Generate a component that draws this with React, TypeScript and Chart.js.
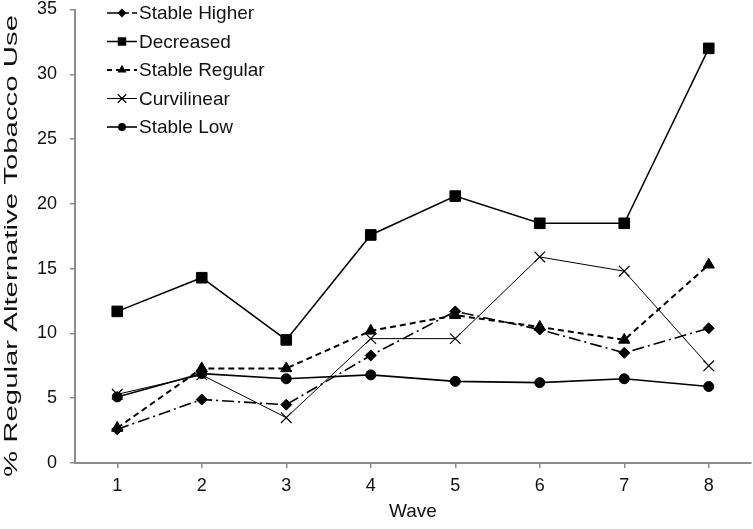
import React, { useEffect, useRef } from "react";
import { Chart, registerables } from "chart.js";

Chart.register(...registerables);

const waves = ["1", "2", "3", "4", "5", "6", "7", "8"];
const seriesNames = ["Stable Higher", "Decreased", "Stable Regular", "Curvilinear", "Stable Low"];
const stableHigher = [2.6, 4.9, 4.5, 8.3, 11.7, 10.3, 8.5, 10.4];
const decreased = [11.7, 14.3, 9.5, 17.6, 20.6, 18.5, 18.5, 32.0];
const stableRegular = [2.7, 7.3, 7.3, 10.2, 11.4, 10.5, 9.5, 15.3];
const curvilinear = [5.3, 6.8, 3.5, 9.6, 9.6, 15.9, 14.8, 7.5];
const stableLow = [5.1, 6.9, 6.5, 6.8, 6.3, 6.2, 6.5, 5.9];
const yTicks = [0, 5, 10, 15, 20, 25, 30, 35];
const xTitle = "Wave";
const yTitle = "% Regular Alternative Tobacco Use";

const FONT = "'Liberation Sans', Arial, sans-serif";
const AXIS_GREY = "#8c8c8c";

type Style = {
  pointStyle: string;
  radius: number;
  dash: number[];
  legendDash: number[];
  width: number;
  pointBorder: number;
};

const styles: Style[] = [
  { pointStyle: "rectRot", radius: 5.5, dash: [12, 4, 2, 4], legendDash: [12, 5, 5, 3, 6, 20], width: 1.6, pointBorder: 1 },
  { pointStyle: "rect", radius: 7.5, dash: [], legendDash: [], width: 1.5, pointBorder: 1 },
  { pointStyle: "triangle", radius: 6.5, dash: [6, 4], legendDash: [5, 4], width: 2, pointBorder: 1 },
  { pointStyle: "crossRot", radius: 7.5, dash: [], legendDash: [], width: 1, pointBorder: 1.2 },
  { pointStyle: "circle", radius: 5, dash: [], legendDash: [], width: 1.6, pointBorder: 1 },
];

function drawMarker(ctx: CanvasRenderingContext2D, style: string, x: number, y: number, r: number) {
  ctx.beginPath();
  if (style === "rectRot") {
    ctx.moveTo(x, y - r);
    ctx.lineTo(x + r, y);
    ctx.lineTo(x, y + r);
    ctx.lineTo(x - r, y);
    ctx.closePath();
    ctx.fill();
  } else if (style === "rect") {
    const s = Math.SQRT1_2 * r;
    ctx.rect(x - s, y - s, 2 * s, 2 * s);
    ctx.fill();
  } else if (style === "triangle") {
    const h = r * 1.5;
    ctx.moveTo(x, y - r);
    ctx.lineTo(x + h / Math.sqrt(3), y + r / 2);
    ctx.lineTo(x - h / Math.sqrt(3), y + r / 2);
    ctx.closePath();
    ctx.fill();
  } else if (style === "crossRot") {
    const o = Math.SQRT1_2 * r;
    ctx.moveTo(x - o, y - o);
    ctx.lineTo(x + o, y + o);
    ctx.moveTo(x - o, y + o);
    ctx.lineTo(x + o, y - o);
    ctx.lineWidth = 1.2;
    ctx.setLineDash([]);
    ctx.stroke();
  } else {
    ctx.arc(x, y, r, 0, Math.PI * 2);
    ctx.fill();
  }
}

const legendPlugin = {
  id: "customLegend",
  afterDraw(chart: any) {
    const ctx: CanvasRenderingContext2D = chart.ctx;
    const area = chart.chartArea;
    const x0 = area.left + 32;
    const x1 = area.left + 62;
    const xm = (x0 + x1) / 2;
    const tx = area.left + 64;
    ctx.save();
    ctx.font = `19px ${FONT}`;
    ctx.textBaseline = "middle";
    ctx.textAlign = "left";
    chart.data.datasets.forEach((ds: any, i: number) => {
      const st = styles[i];
      const y = 13 + i * 28.5;
      ctx.strokeStyle = "#000";
      ctx.fillStyle = "#000";
      ctx.lineWidth = st.width;
      ctx.setLineDash(st.legendDash);
      ctx.beginPath();
      ctx.moveTo(x0, y);
      ctx.lineTo(x1, y);
      ctx.stroke();
      ctx.setLineDash([]);
      drawMarker(ctx, st.pointStyle, xm, y, st.radius * 0.8);
      ctx.fillStyle = "#111";
      ctx.fillText(ds.label, tx, y + 1);
    });
    ctx.restore();
  },
};

const yTitlePlugin = {
  id: "yTitle",
  afterDraw(chart: any) {
    const ctx: CanvasRenderingContext2D = chart.ctx;
    const targetLength = 462;
    ctx.save();
    ctx.font = `19px ${FONT}`;
    ctx.fillStyle = "#111";
    ctx.textAlign = "center";
    ctx.textBaseline = "middle";
    const w = ctx.measureText(yTitle).width;
    ctx.translate(12, 246);
    ctx.rotate(-Math.PI / 2);
    ctx.scale(targetLength / w, 1);
    ctx.fillText(yTitle, 0, 0);
    ctx.restore();
  },
};

export default function App() {
  const canvasRef = useRef<HTMLCanvasElement | null>(null);

  useEffect(() => {
    if (!canvasRef.current) return;
    const values = [stableHigher, decreased, stableRegular, curvilinear, stableLow];
    const chart = new Chart(canvasRef.current, {
      type: "line",
      data: {
        labels: waves,
        datasets: values.map((d, i) => ({
          label: seriesNames[i],
          data: d,
          borderColor: "#000",
          backgroundColor: "#000",
          borderWidth: styles[i].width,
          borderDash: styles[i].dash,
          pointStyle: styles[i].pointStyle as any,
          pointRadius: styles[i].radius,
          pointBorderWidth: styles[i].pointBorder,
          pointBackgroundColor: "#000",
          pointBorderColor: "#000",
          tension: 0,
          fill: false,
          clip: false as any,
        })),
      },
      options: {
        responsive: false,
        animation: false,
        layout: { autoPadding: false, padding: { top: 9.5, right: 2, left: 0, bottom: 0 } },
        plugins: {
          legend: { display: false },
          tooltip: { enabled: false },
          title: { display: false },
        },
        scales: {
          x: {
            type: "category",
            offset: true,
            grid: {
              display: true,
              drawOnChartArea: false,
              drawTicks: true,
              tickLength: 5,
              color: AXIS_GREY,
              lineWidth: 1.5,
              offset: false,
            },
            border: { display: true, color: AXIS_GREY, width: 2 },
            ticks: {
              color: "#111",
              font: { family: FONT, size: 18 },
              padding: 7,
              maxRotation: 0,
            },
            title: {
              display: true,
              text: xTitle,
              color: "#111",
              font: { family: FONT, size: 19 },
              padding: { top: 0, bottom: 6 },
            },
            afterFit(scale: any) {
              scale.height = 66;
              scale.paddingLeft = 0;
              scale.paddingRight = 0;
            },
          },
          y: {
            min: 0,
            max: 35,
            afterBuildTicks(scale: any) {
              scale.ticks = yTicks.map((v) => ({ value: v }));
            },
            grid: {
              display: true,
              drawOnChartArea: false,
              drawTicks: true,
              tickLength: 5,
              color: AXIS_GREY,
              lineWidth: 1.5,
            },
            border: { display: true, color: AXIS_GREY, width: 2 },
            ticks: {
              color: "#111",
              font: { family: FONT, size: 18, lineHeight: 1 },
              padding: 13,
            },
            title: { display: false },
            afterFit(scale: any) {
              scale.width = 75;
              scale.paddingTop = 0;
              scale.paddingBottom = 0;
            },
          },
        },
      },
      plugins: [legendPlugin, yTitlePlugin],
    });
    return () => chart.destroy();
  }, []);

  return (
    <div style={{ position: "absolute", left: 0, top: 0, width: 753, height: 529, background: "#fff" }}>
      <canvas ref={canvasRef} width={753} height={529} style={{ display: "block" }} />
    </div>
  );
}
